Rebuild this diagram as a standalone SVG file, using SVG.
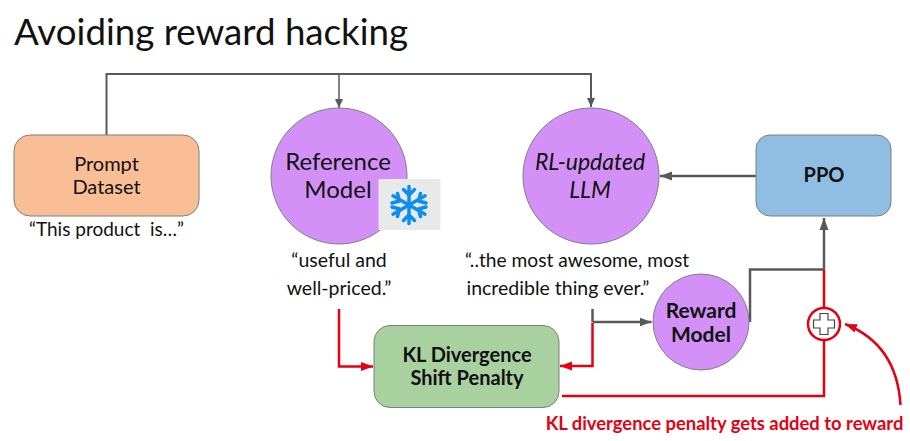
<svg xmlns="http://www.w3.org/2000/svg" width="910" height="441" viewBox="0 0 910 441">
<defs>
<style>
text{font-family:Lato,"Open Sans","Liberation Sans",sans-serif;fill:#111;text-anchor:middle}
.t{font-size:20px}
.b{font-size:20px;font-weight:700}
.q{font-size:19.5px}
.node{stroke:#7f7f7f;stroke-width:1}
.g{fill:none;stroke:#595959;stroke-width:2}
.g2{fill:none;stroke:#595959;stroke-width:2.500}
.r{fill:none;stroke:#e60012;stroke-width:2.5}
</style>
<marker id="gs" markerUnits="userSpaceOnUse" markerWidth="9" markerHeight="8" refX="9" refY="4" orient="auto"><path d="M0 0L9 4L0 8z" fill="#595959"/></marker>
<marker id="gm" markerUnits="userSpaceOnUse" markerWidth="12" markerHeight="10" refX="12" refY="5" orient="auto"><path d="M0 0.500L12 5L0 9.500z" fill="#595959"/></marker>
<marker id="ar" markerUnits="userSpaceOnUse" markerWidth="12" markerHeight="10" refX="12" refY="5" orient="auto"><path d="M0 0.500L12 5L0 9.500z" fill="#e60012"/></marker>
</defs>
<rect width="910" height="441" fill="#fff"/>
<text x="14" y="45" font-size="36.700" style="text-anchor:start">Avoiding reward hacking</text>
<g id="connectors">
<path class="g" d="M106.500 135V74H591V107" marker-end="url(#gs)"/>
<path class="g" d="M339 74V108" marker-end="url(#gs)" style="stroke-width:1.500"/>
<path class="g2" d="M756 176H660" marker-end="url(#gm)"/>
<path class="g2" d="M592.500 322H651.500" marker-end="url(#gm)"/>
<path class="g2" d="M592.500 309V322"/>
<path class="g2" d="M750 322V269.500H824"/>
<path class="g2" d="M824 269.500V218" marker-end="url(#gm)"/>
<path class="r" d="M824 269.500V308"/>
<path class="r" d="M339 309V366.500H373" marker-end="url(#ar)"/>
<path class="r" d="M592.500 323V366H560" marker-end="url(#ar)"/>
<path class="r" d="M562 396H824V340"/>
<path class="r" d="M900.500 405C898 364 878 337 845 324" marker-end="url(#ar)"/>
</g>
<g id="prompt-dataset">
<rect class="node" x="14" y="135" width="185" height="81" rx="16" fill="#f9be95"/>
<text class="t" x="106.500" y="171">Prompt</text>
<text class="t" x="106.500" y="194">Dataset</text>
<text x="106.500" y="236" font-size="19" style="white-space:pre">“This product  is…”</text>
</g>
<g id="reference-model">
<circle class="node" cx="339" cy="176" r="68" fill="#d391f7"/>
<text x="338" y="170" font-size="24">Reference</text>
<text x="338" y="198" font-size="24">Model</text>
<rect x="378.500" y="179" width="62" height="51" fill="#e9e9e9"/>
<g fill="none" stroke="#0a8fef" stroke-width="3.500" stroke-linecap="round" stroke-linejoin="round">
<path d="M409 186.500V223.500M393 195.800L425 214.200M393 214.200L425 195.800"/>
<path d="M403.500 189.500L409 195L414.500 189.500M403.500 220.500L409 215L414.500 220.500"/>
<path d="M392 203L399.500 201L397.500 193.500M426 203L418.500 201L420.500 193.500M392 207L399.500 209L397.500 216.500M426 207L418.500 209L420.500 216.500"/>
</g>
<text class="q" x="339" y="267">“useful and</text>
<text class="q" x="339" y="295">well-priced.”</text>
</g>
<g id="rl-updated-llm">
<circle class="node" cx="591" cy="176" r="68" fill="#d391f7"/>
<text x="590" y="170" font-size="23" font-style="italic">RL-updated</text>
<text x="590" y="198" font-size="23" font-style="italic">LLM</text>
<text x="577" y="267" font-size="19.200">“..the most awesome, most</text>
<text class="q" x="558" y="295">incredible thing ever.”</text>
</g>
<g id="ppo">
<rect class="node" x="756" y="135" width="135" height="81" rx="14" fill="#90bde2"/>
<text class="b" x="824" y="182">PPO</text>
</g>
<g id="reward-model">
<circle class="node" cx="701" cy="322" r="48" fill="#d391f7"/>
<text x="701" y="318" font-size="21" font-weight="700">Reward</text>
<text x="701" y="342" font-size="21" font-weight="700">Model</text>
</g>
<g id="kl-divergence">
<rect class="node" x="374" y="325.500" width="185" height="82" rx="16" fill="#a9d09f"/>
<text class="b" x="467" y="362">KL Divergence</text>
<text class="b" x="467" y="385">Shift Penalty</text>
</g>
<g id="plus">
<circle cx="824" cy="324" r="16" fill="#fff" stroke="#e60012" stroke-width="2.500"/>
<path d="M820 313.500H828V320H834.500V328H828V334.500H820V328H813.500V320H820Z" fill="#fff" stroke="#444" stroke-width="1.200"/>
</g>
<text x="724.500" y="430" font-size="18.400" font-weight="700" style="fill:#e60012">KL divergence penalty gets added to reward</text>
</svg>
